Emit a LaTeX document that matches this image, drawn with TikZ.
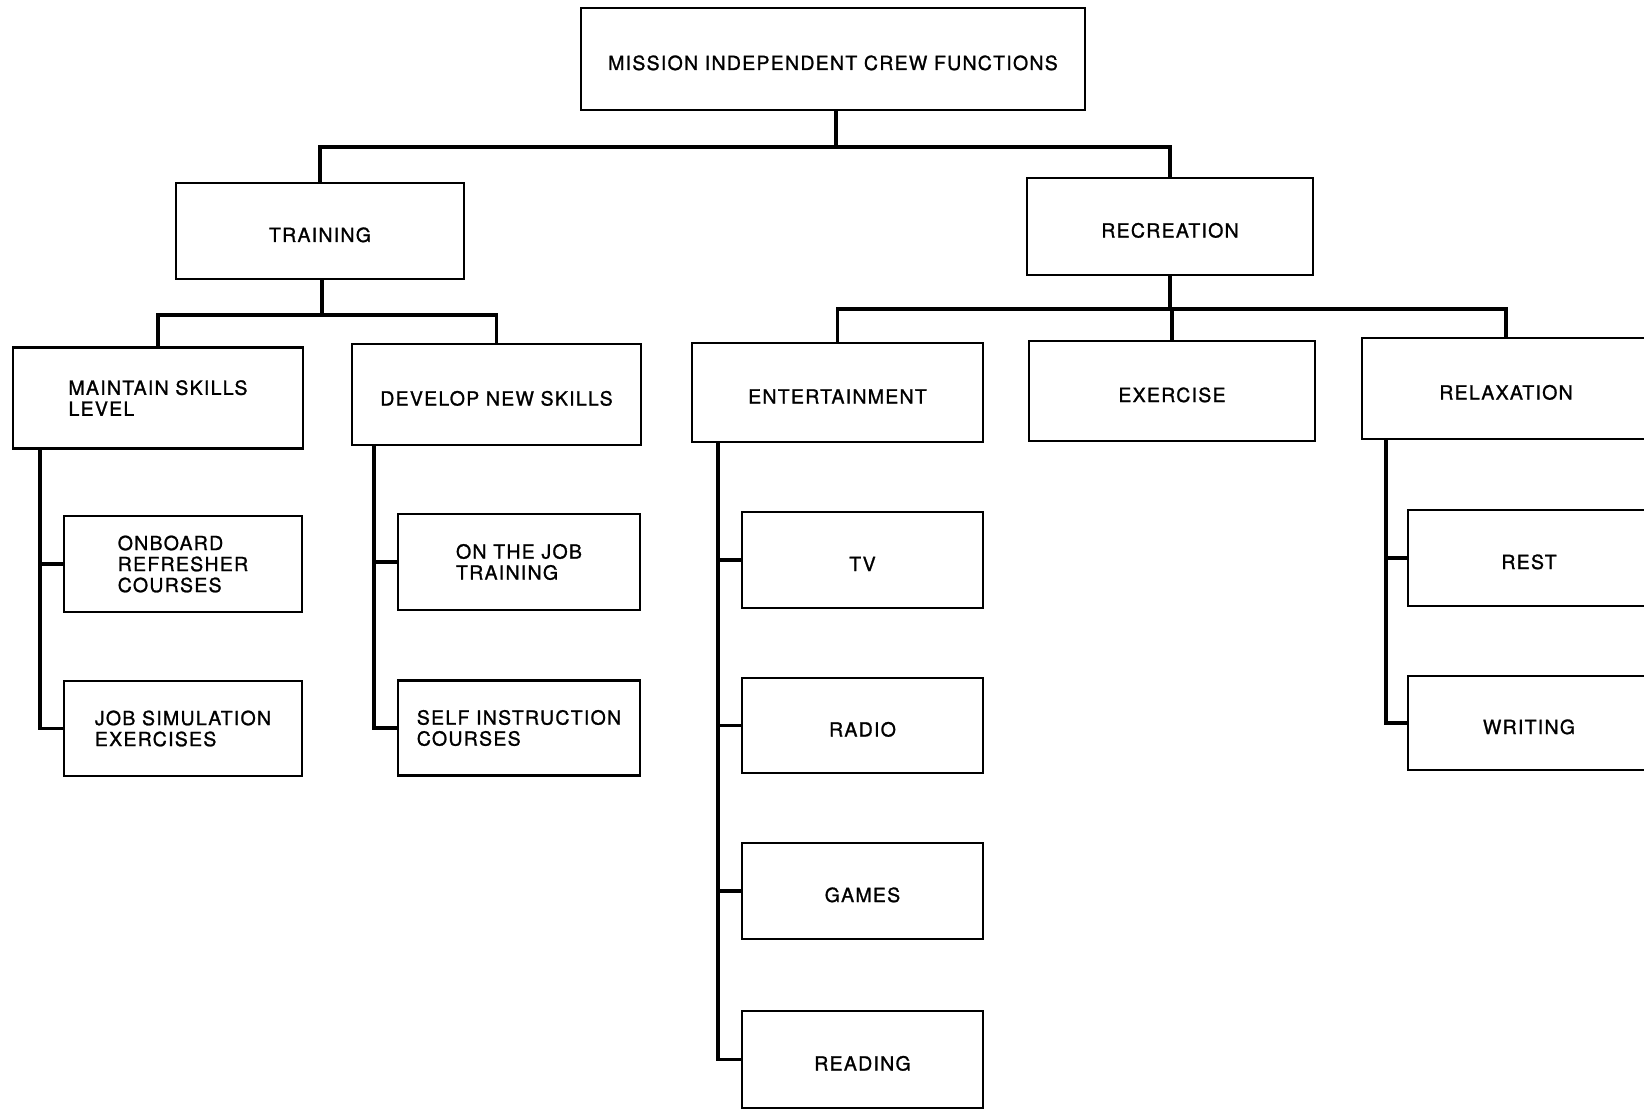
\documentclass[tikz,border=0pt]{standalone}
\usepackage{fontspec}
\setmainfont{TeX Gyre Heros}[LetterSpace=6.5,FakeBold=1.2]
\begin{document}
\begin{tikzpicture}[x=1pt,y=-1pt,
  box/.style={draw, line width=2.2pt, inner sep=0pt, align=left,
    font=\fontsize{19.5}{21}\selectfont},
  sl/.style={text height=22pt, text depth=0pt},
  conn/.style={line width=3.6pt, line join=miter, line cap=rect}]
\useasboundingbox (0,0) rectangle (1644,1110);
\clip (0,0) rectangle (1644,1110);
\fill[white] (0,0) rectangle (1644,1110);

\node[box, sl, minimum width=504, minimum height=102] (top) at (833,59) {MISSION INDEPENDENT CREW FUNCTIONS};
\node[box, sl, minimum width=288, minimum height=96] (training) at (320,231) {TRAINING};
\node[box, sl, minimum width=286, minimum height=97] (recreation) at (1170,226.5) {RECREATION};
\node[box, minimum width=290, minimum height=101] (maintain) at (158,398) {MAINTAIN SKILLS\\LEVEL};
\node[box, sl, minimum width=289, minimum height=101] (develop) at (496.5,394.5) {DEVELOP NEW SKILLS};
\node[box, sl, minimum width=291, minimum height=99] (entertainment) at (837.5,392.5) {ENTERTAINMENT};
\node[box, sl, minimum width=286, minimum height=100] (exercise) at (1172,391) {EXERCISE};
\node[box, sl, minimum width=288, minimum height=101] (relaxation) at (1506,388.5) {RELAXATION};
\node[box, minimum width=238, minimum height=96] (onboard) at (183,564) {ONBOARD\\REFRESHER\\COURSES};
\node[box, minimum width=238, minimum height=95] (jobsim) at (183,728.5) {JOB SIMULATION\\EXERCISES};
\node[box, minimum width=242, minimum height=96] (onthejob) at (519,562) {ON THE JOB\\TRAINING};
\node[box, minimum width=242, minimum height=95] (selfinst) at (519,728) {SELF INSTRUCTION\\COURSES};
\node[box, sl, minimum width=241, minimum height=96] (tv) at (862.5,560) {TV};
\node[box, sl, minimum width=241, minimum height=95] (radio) at (862.5,725.5) {RADIO};
\node[box, sl, minimum width=241, minimum height=96] (games) at (862.5,891) {GAMES};
\node[box, sl, minimum width=241, minimum height=97] (reading) at (862.5,1059.5) {READING};
\node[box, sl, minimum width=242, minimum height=96] (rest) at (1529,558) {REST};
\node[box, sl, minimum width=242, minimum height=94] (writing) at (1529,723) {WRITING};

% buses
\coordinate (b1) at (836,147);
\coordinate (b2) at (322,315);
\coordinate (b3) at (1174,309);
\coordinate (vm) at (40,0);
\coordinate (vd) at (374,0);
\coordinate (ve) at (718,0);
\coordinate (vr) at (1386,0);

\draw[conn] (top.south -| b1) -- (b1);
\draw[conn] (training.north) |- (b1) -| (recreation.north);

\draw[conn] (training.south -| b2) -- (b2);
\draw[conn] (maintain.north) |- (b2) -| (develop.north);

\draw[conn] (recreation.south) -- (recreation.south |- b3);
\draw[conn] (entertainment.north) |- (b3) -| (relaxation.north);
\draw[conn] (exercise.north) -- (exercise.north |- b3);

\draw[conn] (maintain.south -| vm) |- (jobsim.west);
\draw[conn] (onboard.west -| vm) -- (onboard.west);

\draw[conn] (develop.south -| vd) |- (selfinst.west);
\draw[conn] (onthejob.west -| vd) -- (onthejob.west);

\draw[conn] (entertainment.south -| ve) |- (reading.west);
\draw[conn] (tv.west -| ve) -- (tv.west);
\draw[conn] (radio.west -| ve) -- (radio.west);
\draw[conn] (games.west -| ve) -- (games.west);

\draw[conn] (relaxation.south -| vr) |- (writing.west);
\draw[conn] (rest.west -| vr) -- (rest.west);
\end{tikzpicture}
\end{document}
